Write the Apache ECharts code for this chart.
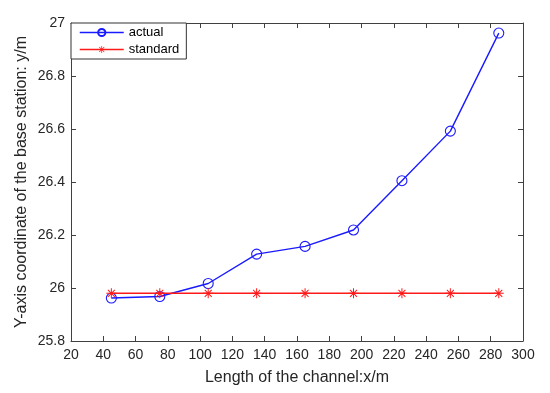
<!DOCTYPE html>
<html>
<head>
<meta charset="utf-8">
<script src="https://cdn.jsdelivr.net/npm/echarts@6/dist/echarts.min.js"></script>
<style>
html,body{margin:0;padding:0;background:#fff;}
#c{width:550px;height:393px;}
</style>
</head>
<body>
<div id="c"></div>
<script>
var xValues = [45, 75, 105, 135, 165, 195, 225, 255, 285];
var actualValues = [25.962, 25.968, 26.017, 26.128, 26.157, 26.219, 26.405, 26.592, 26.962];
var standardValues = [25.98, 25.98, 25.98, 25.98, 25.98, 25.98, 25.98, 25.98, 25.98];
var seriesNames = ['actual', 'standard'];
var xName = 'Length of the channel:x/m';
var yName = 'Y-axis coordinate of the base station: y/m';

var asterisk = 'path://M9 0 L11 0 L11 20 L9 20 Z M0 9 L20 9 L20 11 L0 11 Z ' +
  'M3.7 2.3 L17.7 16.3 L16.3 17.7 L2.3 3.7 Z M17.7 3.7 L3.7 17.7 L2.3 16.3 L16.3 2.3 Z';

function pairs(xs, ys) { return xs.map(function (x, i) { return [x, ys[i]]; }); }

var font = 'Liberation Sans, Arial, Helvetica, sans-serif';
var axisCol = '#404040';
var blue = '#1a1aff';
var red = '#ff1a1a';
var baseAxis = {
  axisLine: { show: true, onZero: false, lineStyle: { color: axisCol, width: 1 } },
  axisTick: { show: true, inside: true, length: 5, lineStyle: { color: axisCol } },
  splitLine: { show: false }
};

var chart = echarts.init(document.getElementById('c'), null, { renderer: 'canvas' });
chart.setOption({
  animation: false,
  backgroundColor: '#fff',
  grid: { left: 71, right: 27, top: 23, bottom: 52 },
  legend: {
    orient: 'vertical', left: 71, top: 23,
    padding: [3, 7, 3, 8], itemWidth: 44, itemHeight: 9, itemGap: 4,
    borderColor: '#333', borderWidth: 1, backgroundColor: '#fff',
    textStyle: { fontFamily: font, fontSize: 13, color: '#000' },
    data: [
      { name: seriesNames[0], lineStyle: { color: blue, width: 1.5 } },
      { name: seriesNames[1], lineStyle: { color: red, width: 1.5 } }
    ]
  },
  xAxis: [
    Object.assign({}, baseAxis, {
      type: 'value', min: 20, max: 300, interval: 20, position: 'bottom',
      name: xName, nameLocation: 'middle', nameGap: 29, nameMoveOverlap: false,
      nameTextStyle: { fontFamily: font, fontSize: 16, color: '#262626' },
      axisLabel: { fontFamily: font, fontSize: 14, color: '#262626', margin: 7 }
    }),
    Object.assign({}, baseAxis, {
      type: 'value', min: 20, max: 300, interval: 20, position: 'top',
      axisLabel: { show: false }
    })
  ],
  yAxis: [
    Object.assign({}, baseAxis, {
      type: 'value', min: 25.8, max: 27, interval: 0.2, position: 'left',
      name: yName, nameLocation: 'middle', nameGap: 41, nameMoveOverlap: false,
      nameTextStyle: { fontFamily: font, fontSize: 16, color: '#262626' },
      axisLabel: { fontFamily: font, fontSize: 14, color: '#262626', margin: 6,
        formatter: function (v) { return String(Math.round(v * 10) / 10); } }
    }),
    Object.assign({}, baseAxis, {
      type: 'value', min: 25.8, max: 27, interval: 0.2, position: 'right',
      axisLabel: { show: false }
    })
  ],
  series: [
    {
      name: seriesNames[0], type: 'line', xAxisIndex: 0, yAxisIndex: 0,
      data: pairs(xValues, actualValues),
      symbol: 'circle', symbolSize: 10,
      color: blue,
      lineStyle: { color: blue, width: 1.4 },
      itemStyle: { color: 'rgba(255,255,255,0)', borderColor: blue, borderWidth: 1.1 },
      z: 2
    },
    {
      name: seriesNames[1], type: 'line', xAxisIndex: 0, yAxisIndex: 0,
      data: pairs(xValues, standardValues),
      symbol: asterisk, symbolSize: 10,
      color: red,
      lineStyle: { color: red, width: 1.4 },
      itemStyle: { color: red, borderColor: red, borderWidth: 0 },
      z: 3
    }
  ]
});
</script>
</body>
</html>
